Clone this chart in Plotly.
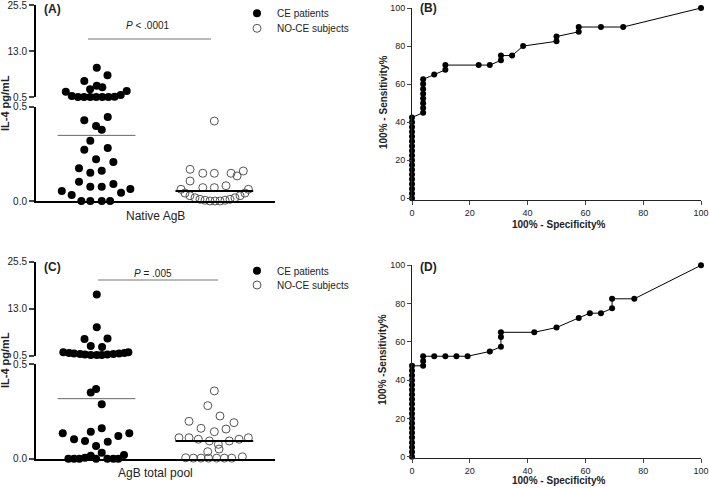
import plotly.graph_objects as go

W, H = 709, 488
FONT = "Arial, Liberation Sans, sans-serif"

# (A) Native AgB - CE patients, upper segment (pg/mL above 0.5)
A_CE_HI_X = [1.002, 1.093, 0.896, 1.002, 1.049, 0.945, 0.739, 0.790, 0.842, 0.894, 0.946,
             0.997, 1.049, 1.101, 1.153, 1.205, 1.256]
A_CE_HI_Y = [8.5, 6.5, 4.9, 3.6, 3.2, 2.7, 2.0, 0.85, 0.6, 0.55, 0.55,
             0.55, 0.55, 0.55, 0.65, 1.1, 2.2]
# (A) CE patients, lower segment
A_CE_LO_X = [0.896, 1.095, 0.996, 1.044, 0.947, 0.896, 1.095, 0.996, 1.143, 0.851, 0.947, 1.044,
             0.851, 0.947, 1.044, 1.143, 0.705, 0.789, 1.208, 1.287, 0.871, 0.947, 1.044, 1.115]
A_CE_LO_Y = [0.428, 0.445, 0.398, 0.378, 0.320, 0.272, 0.281, 0.221, 0.207, 0.173, 0.150, 0.161,
             0.102, 0.076, 0.076, 0.090, 0.053, 0.032, 0.044, 0.064, 0.0, 0.0, 0.0, 0.0]
# (A) NO-CE subjects
A_NOCE_X = [2.000, 1.794, 1.902, 2.000, 2.142, 2.193, 2.246, 1.794, 1.902, 2.000, 2.099, 1.717, 2.289,
            1.751, 1.793, 1.836, 1.878, 1.921, 1.963, 2.006, 2.048, 2.091, 2.133, 2.175, 2.218, 2.260]
A_NOCE_Y = [0.424, 0.168, 0.147, 0.147, 0.147, 0.133, 0.159, 0.106, 0.071, 0.071, 0.081, 0.062, 0.062,
            0.042, 0.028, 0.017, 0.009, 0.004, 0.0, 0.0, 0.0, 0.004, 0.009, 0.017, 0.028, 0.042]
A_CE_MEAN = 0.348
A_NOCE_MEDIAN = 0.053

# (C) AgB total pool
C_CE_HI_X = [1.002, 1.002, 0.898, 1.093, 0.951, 1.047, 0.718, 0.767, 0.809, 0.860, 0.902, 0.951,
             1.002, 1.044, 1.092, 1.143, 1.191, 1.236, 1.270]
C_CE_HI_Y = [16.8, 8.05, 4.94, 5.1, 3.08, 2.8, 1.4, 1.2, 1.1, 0.95, 0.85, 0.7,
             0.7, 0.7, 0.85, 0.95, 1.1, 1.2, 1.4]
C_CE_LO_X = [0.951, 0.996, 1.044, 0.713, 0.809, 0.902, 0.951, 1.044, 0.996, 1.095, 1.185, 1.278,
             0.761, 0.809, 0.854, 0.902, 0.951, 0.996, 1.044, 1.092, 1.143, 1.185, 1.233]
C_CE_LO_Y = [0.350, 0.369, 0.288, 0.135, 0.103, 0.094, 0.143, 0.161, 0.067, 0.090, 0.120, 0.135,
             0.0, 0.0, 0.0, 0.005, 0.015, 0.0, 0.032, 0.0, 0.0, 0.0, 0.02]
C_NOCE_X = [2.000, 1.944, 2.048, 1.785, 2.167, 1.887, 2.000, 2.099, 1.700, 1.785, 1.864, 1.958, 2.127,
            2.210, 2.289, 2.034, 2.040, 1.944, 1.757, 1.822, 1.887, 1.950, 2.020, 2.085, 2.148, 2.238]
C_NOCE_Y = [0.359, 0.281, 0.226, 0.198, 0.191, 0.161, 0.143, 0.157, 0.111, 0.111, 0.103, 0.094, 0.094,
            0.103, 0.111, 0.076, 0.051, 0.037, 0.005, 0.003, 0.003, 0.003, 0.003, 0.003, 0.003, 0.010]
C_CE_MEAN = 0.318
C_NOCE_MEDIAN = 0.094

# (B) ROC native AgB
B_FPR = [0, 0, 0, 0, 0, 0, 0, 0, 0, 0, 0, 0, 0, 0, 0, 0, 0, 0,
         3.85, 3.85, 3.85, 3.85, 3.85, 3.85, 3.85, 3.85,
         7.69, 11.54, 11.54, 23.08, 26.92, 30.77, 30.77, 34.62, 38.46, 50, 50,
         57.69, 57.69, 65.38, 73.08, 100]
B_SENS = [0, 2.5, 5, 7.5, 10, 12.5, 15, 17.5, 20, 22.5, 25, 27.5, 30, 32.5, 35, 37.5, 40, 42.5,
          45, 47.5, 50, 52.5, 55, 57.5, 60, 62.5,
          65, 67.5, 70, 70, 70, 72.5, 75, 75, 80, 82.5, 85,
          87.5, 90, 90, 90, 100]

# (D) ROC AgB total pool
D_FPR = [0, 0, 0, 0, 0, 0, 0, 0, 0, 0, 0, 0, 0, 0, 0, 0, 0, 0, 0, 0,
         3.85, 3.85, 3.85, 7.69, 11.54, 15.38, 19.23, 26.92, 30.77, 30.77, 30.77,
         42.31, 50, 57.69, 61.54, 65.38, 69.23, 69.23, 76.92, 100]
D_SENS = [0, 2.5, 5, 7.5, 10, 12.5, 15, 17.5, 20, 22.5, 25, 27.5, 30, 32.5, 35, 37.5, 40, 42.5, 45, 47.5,
          47.5, 50, 52.5, 52.5, 52.5, 52.5, 52.5, 55, 57.5, 62.5, 65,
          65, 67.5, 72.5, 75, 75, 77.5, 82.5, 82.5, 100]

LINE_HALF = 0.33


def fx(p):
    return p / W


def fy(p):
    return 1 - p / H


fig = go.Figure()


def dots(x, y, xa, ya, filled, name=None, legend="legend"):
    if filled:
        marker = dict(symbol="circle", size=8, color="black")
    else:
        marker = dict(symbol="circle-open", size=8, color="#555", line=dict(width=1))
    fig.add_trace(go.Scatter(x=x, y=y, xaxis=xa, yaxis=ya, mode="markers", marker=marker,
                             cliponaxis=False, name=name, showlegend=name is not None,
                             legend=legend))


def hline(center, value, xa, ya, color, width):
    fig.add_trace(go.Scatter(x=[center - LINE_HALF, center + LINE_HALF], y=[value, value],
                             xaxis=xa, yaxis=ya, mode="lines", cliponaxis=False,
                             line=dict(color=color, width=width), showlegend=False))


def roc(x, y, xa, ya):
    fig.add_trace(go.Scatter(x=x, y=y, xaxis=xa, yaxis=ya, mode="lines+markers",
                             marker=dict(size=6, color="black"), line=dict(color="black", width=1),
                             cliponaxis=False, showlegend=False))


# panel A
dots(A_CE_LO_X, A_CE_LO_Y, "x", "y", True, "CE patients", "legend")
dots(A_NOCE_X, A_NOCE_Y, "x", "y", False, "NO-CE subjects", "legend2")
dots(A_CE_HI_X, A_CE_HI_Y, "x2", "y2", True)
hline(1, A_CE_MEAN, "x", "y", "#666", 1)
hline(2, A_NOCE_MEDIAN, "x", "y", "black", 2)

# panel C
dots(C_CE_LO_X, C_CE_LO_Y, "x4", "y4", True, "CE patients", "legend3")
dots(C_NOCE_X, C_NOCE_Y, "x4", "y4", False, "NO-CE subjects", "legend4")
dots(C_CE_HI_X, C_CE_HI_Y, "x5", "y5", True)
hline(1, C_CE_MEAN, "x4", "y4", "#666", 1)
hline(2, C_NOCE_MEDIAN, "x4", "y4", "black", 2)

# ROC panels
roc(B_FPR, B_SENS, "x3", "y3")
roc(D_FPR, D_SENS, "x6", "y6")

cat_x = dict(domain=[fx(36), fx(275)], range=[0.486, 2.515], showgrid=False, zeroline=False,
             showticklabels=False, ticks="", showline=True, linecolor="black", linewidth=2,
             automargin=False)
hidden_x = dict(domain=[fx(36), fx(275)], range=[0.486, 2.515], visible=False, automargin=False)
seg_y = dict(showgrid=False, zeroline=False, ticks="outside", ticklen=5, tickwidth=2,
             showline=True, linecolor="black", linewidth=2, tickfont=dict(size=10, color="#222"),
             automargin=False, ticklabeloverflow="allow")
lo_ticks = dict(range=[0, 0.5], tickvals=[0, 0.5], ticktext=["0.0", "0.5"])
hi_ticks = dict(range=[0.5, 25.5], tickvals=[0.5, 13, 25.5], ticktext=["0.5", "13.0", "25.5"])
roc_ax = dict(showgrid=False, zeroline=False, ticks="outside", ticklen=4, tickwidth=1, dtick=20,
              showline=True, linecolor="#222", linewidth=1, tickfont=dict(size=9, color="#222"),
              automargin=False, ticklabeloverflow="allow")

legend_style = dict(xanchor="left", yanchor="middle", font=dict(size=10, color="#222"),
                    bgcolor="rgba(0,0,0,0)", itemwidth=30, tracegroupgap=0)

annotations = []


def label(text, px, py, size, bold=False, angle=0):
    if bold:
        text = "<b>" + text + "</b>"
    annotations.append(dict(text=text, x=fx(px), y=fy(py), xref="paper", yref="paper",
                            xanchor="center", yanchor="middle", showarrow=False, textangle=angle,
                            font=dict(size=size, color="#222")))


label("(A)", 52, 9, 12, True)
label("(B)", 429, 8, 12, True)
label("(C)", 52, 267, 12, True)
label("(D)", 429, 267, 12, True)
label("IL-4 pg/mL", 5, 103, 11, True, -90)
label("IL-4 pg/mL", 5, 360, 11, True, -90)
label("Native AgB", 155, 216, 12)
label("AgB total pool", 155, 473, 12)
label("<i>P</i> &lt; .0001", 148, 25, 10)
label("<i>P</i> = .005", 153, 273, 10)
label("100% - Sensitivity%", 383, 103, 10, True, -90)
label("100% -Sensitivity%", 382, 360, 10, True, -90)
label("100% - Specificity%", 558, 224, 10, True)
label("100% - Specificity%", 558, 480, 10, True)

shapes = [
    dict(type="line", xref="paper", yref="paper", x0=fx(88), x1=fx(211), y0=fy(39), y1=fy(39),
         line=dict(color="#777", width=1)),
    dict(type="line", xref="paper", yref="paper", x0=fx(98), x1=fx(218), y0=fy(280), y1=fy(280),
         line=dict(color="#777", width=1)),
]

fig.update_layout(
    width=W,
    height=H,
    margin=dict(l=0, r=0, t=0, b=0, autoexpand=False),
    paper_bgcolor="white",
    plot_bgcolor="white",
    font=dict(family=FONT, color="#222"),
    xaxis=dict(anchor="y", **cat_x),
    yaxis=dict(domain=[fy(201), fy(106.7)], anchor="x", **seg_y, **lo_ticks),
    xaxis2=dict(anchor="y2", **hidden_x),
    yaxis2=dict(domain=[fy(97.3), fy(5)], anchor="x2", **seg_y, **hi_ticks),
    xaxis3=dict(domain=[fx(412), fx(701)], anchor="y3", range=[0, 100], **roc_ax),
    yaxis3=dict(domain=[fy(200.2), fy(8)], anchor="x3", range=[-1, 100], **roc_ax),
    xaxis4=dict(anchor="y4", **cat_x),
    yaxis4=dict(domain=[fy(458.7), fy(364.3)], anchor="x4", **seg_y, **lo_ticks),
    xaxis5=dict(anchor="y5", **hidden_x),
    yaxis5=dict(domain=[fy(355.7), fy(261.7)], anchor="x5", **seg_y, **hi_ticks),
    xaxis6=dict(domain=[fx(412), fx(701)], anchor="y6", range=[0, 100], **roc_ax),
    yaxis6=dict(domain=[fy(457.7), fy(265.3)], anchor="x6", range=[-0.5, 100], **roc_ax),
    legend=dict(x=fx(237), y=fy(13.3), **legend_style),
    legend2=dict(x=fx(237), y=fy(28.3), **legend_style),
    legend3=dict(x=fx(237), y=fy(270.7), **legend_style),
    legend4=dict(x=fx(237), y=fy(285), **legend_style),
    annotations=annotations,
    shapes=shapes,
)

# the page body has a default 8px margin; drop it so the figure sits at the window corner
fig.write_html("out.html", config={"displayModeBar": False},
               post_script="document.body.style.margin = '0';")
